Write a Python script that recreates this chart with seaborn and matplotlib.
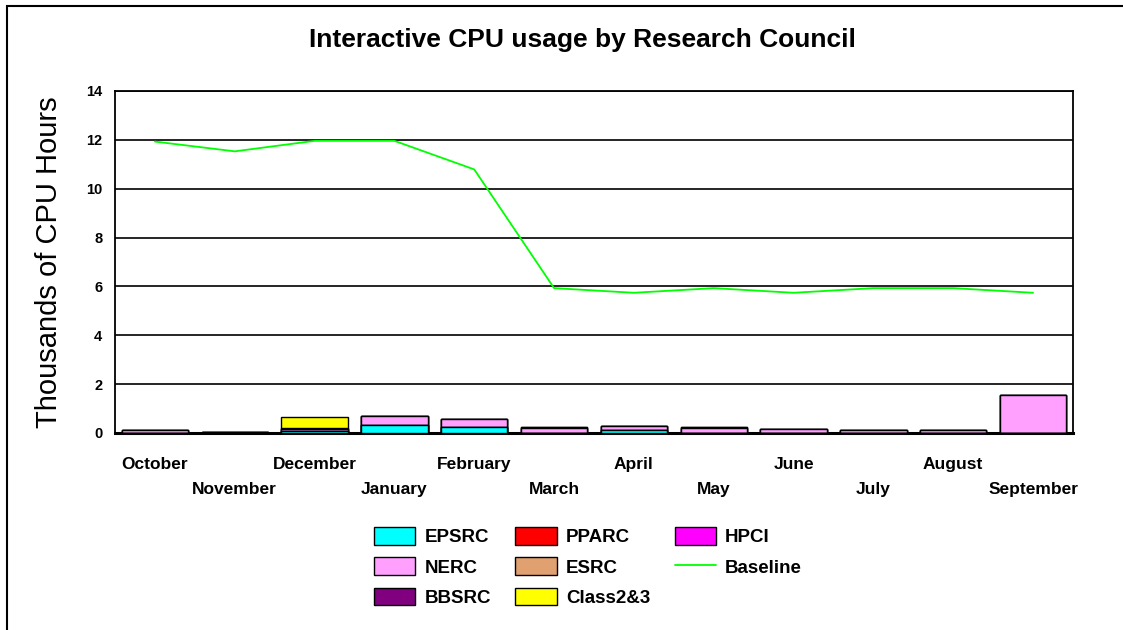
import numpy as np
import pandas as pd
import matplotlib
matplotlib.use("Agg")
import matplotlib.pyplot as plt
import seaborn as sns
from matplotlib.patches import Patch, Rectangle
from matplotlib.lines import Line2D

months = ["October", "November", "December", "January", "February", "March",
          "April", "May", "June", "July", "August", "September"]
epsrc    = [0.00, 0.00, 0.10, 0.34, 0.26, 0.00, 0.14, 0.00, 0.00, 0.00, 0.00, 0.00]
pparc    = [0.00, 0.00, 0.00, 0.00, 0.00, 0.00, 0.00, 0.00, 0.00, 0.00, 0.00, 0.00]
hpci     = [0.00, 0.00, 0.00, 0.00, 0.00, 0.00, 0.00, 0.00, 0.00, 0.00, 0.00, 0.00]
nerc     = [0.12, 0.04, 0.08, 0.37, 0.31, 0.20, 0.16, 0.20, 0.17, 0.12, 0.12, 1.57]
esrc     = [0.00, 0.00, 0.00, 0.00, 0.00, 0.00, 0.00, 0.00, 0.00, 0.00, 0.00, 0.00]
bbsrc    = [0.00, 0.02, 0.03, 0.00, 0.00, 0.03, 0.00, 0.03, 0.00, 0.00, 0.00, 0.00]
class23  = [0.00, 0.00, 0.45, 0.00, 0.00, 0.00, 0.00, 0.00, 0.00, 0.00, 0.00, 0.00]
baseline = [11.93, 11.53, 11.96, 11.96, 10.79, 5.93, 5.74, 5.93, 5.74, 5.93, 5.93, 5.74]

series_names = ["EPSRC", "PPARC", "HPCI", "NERC", "ESRC", "BBSRC", "Class2&3"]
series_vals = [epsrc, pparc, hpci, nerc, esrc, bbsrc, class23]
colors = {"EPSRC": "#00FFFF", "PPARC": "#FF0000", "HPCI": "#FF00FF",
          "NERC": "#FFA0FF", "ESRC": "#E0A070", "BBSRC": "#800080",
          "Class2&3": "#FFFF00"}

sns.set_theme(style="white")
plt.rcParams["font.family"] = ["Liberation Sans", "DejaVu Sans"]
plt.rcParams["text.color"] = "black"
plt.rcParams["axes.labelcolor"] = "black"
plt.rcParams["xtick.color"] = "black"
plt.rcParams["ytick.color"] = "black"

fig = plt.figure(figsize=(11.23, 6.30), dpi=100)
ax = fig.add_axes([115/1123, 1-433/630, (1073-115)/1123, (433-91)/630])

# stacked bars: draw cumulative totals from top layer down
cum = np.cumsum(np.array(series_vals), axis=0)
for i in range(len(series_names) - 1, -1, -1):
    df = pd.DataFrame({"month": months, "val": cum[i]})
    sns.barplot(data=df, x="month", y="val", order=months, color=colors[series_names[i]],
                saturation=1, width=0.83, edgecolor="black", linewidth=1.0,
                ax=ax, zorder=3)

dfl = pd.DataFrame({"x": np.arange(len(months)), "y": baseline})
sns.lineplot(data=dfl, x="x", y="y", sort=False, color="#00FF00", linewidth=1.3,
             ax=ax, zorder=4)

ax.set_xlim(-0.5, len(months) - 0.5)
ax.set_ylim(0, 14)
ax.set_yticks(np.arange(0, 15, 2))
ax.set_yticklabels([str(v) for v in range(0, 15, 2)], fontsize=10.5, fontweight="bold")
ax.yaxis.grid(True, color="black", linewidth=1.2, zorder=0)
ax.set_axisbelow(True)
ax.set_xticks(np.arange(len(months)))
ax.set_xticklabels([])
ax.tick_params(axis="both", length=0, pad=9)
for i, m in enumerate(months):
    ax.annotate(m, xy=(i, 0), xycoords=("data", "axes fraction"),
                xytext=(0, -23 if i % 2 == 0 else -41), textcoords="offset points",
                ha="center", va="center", fontsize=12.5, fontweight="bold")
ax.set_xlabel("")
ax.set_ylabel("Thousands of CPU Hours", fontsize=21, labelpad=17)
for s in ax.spines.values():
    s.set_color("black")
    s.set_linewidth(1.3)
ax.spines["bottom"].set_linewidth(2.2)

fig.text(582/1123, 1-40/630, "Interactive CPU usage by Research Council",
         ha="center", va="center", fontsize=19, fontweight="bold")

handles = []
order = ["EPSRC", "NERC", "BBSRC", "PPARC", "ESRC", "Class2&3", "HPCI", "Baseline"]
for name in order:
    if name == "Baseline":
        handles.append(Line2D([], [], color="#00FF00", linewidth=1.3, label=name))
    else:
        handles.append(Patch(facecolor=colors[name], edgecolor="black", linewidth=1.0, label=name))
fig.legend(handles=handles, ncol=3, loc="center", bbox_to_anchor=(588/1123, 1-567/630),
           frameon=False, prop={"weight": "bold", "size": 13.5},
           handlelength=2.2, handleheight=1.05, columnspacing=1.3, labelspacing=0.6,
           handletextpad=0.5)

fig.patches.append(Rectangle((7/1123, -0.1), 1.2, 1.1 - 6/630, transform=fig.transFigure,
                             fill=False, edgecolor="black", linewidth=1.5))

fig.savefig("out.png", dpi=100, facecolor="white")
